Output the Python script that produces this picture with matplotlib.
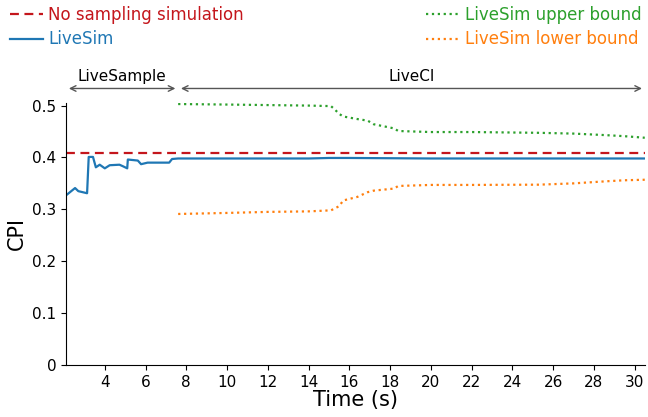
import matplotlib.pyplot as plt

# LiveSim estimate (CPI over time)
sim_t = [2.1, 2.54, 2.7, 3.13, 3.21, 3.42, 3.56, 3.75, 4.0, 4.24, 4.72, 4.89, 5.1, 5.13,
         5.62, 5.78, 6.1, 7.16, 7.3, 7.6, 10.0, 14.0, 15.0, 16.0, 20.0, 26.0, 28.0, 30.5]
sim_cpi = [0.327, 0.341, 0.335, 0.331, 0.401, 0.401, 0.381, 0.386, 0.379, 0.385, 0.386, 0.383,
           0.379, 0.396, 0.394, 0.387, 0.390, 0.390, 0.397, 0.398, 0.398, 0.398, 0.399, 0.399,
           0.398, 0.398, 0.398, 0.398]

# confidence bounds (from LiveCI phase)
ci_t = [7.6, 10.0, 12.0, 14.0, 15.1, 15.3, 15.5, 15.7, 16.4, 16.9, 17.2, 18.2, 18.4,
        20.0, 22.0, 25.3, 27.0, 28.6, 29.5, 30.5]
upper = [0.503, 0.502, 0.501, 0.500, 0.499, 0.492, 0.484, 0.479, 0.474, 0.471, 0.464, 0.456,
         0.451, 0.449, 0.449, 0.4475, 0.446, 0.443, 0.441, 0.438]
lower = [0.291, 0.293, 0.295, 0.296, 0.298, 0.302, 0.306, 0.317, 0.324, 0.333, 0.336, 0.340,
         0.345, 0.347, 0.347, 0.3475, 0.350, 0.354, 0.356, 0.357]

full_sim_cpi = 0.409

x_min, x_max = 2.1, 30.5
phase_split = 7.6

fig = plt.figure(figsize=(6.48, 4.17), dpi=100)
ax = fig.add_axes([0.102, 0.125, 0.893, 0.628])

l_full = ax.axhline(full_sim_cpi, color="#c4161c", ls="--", lw=1.6, dashes=(4, 2.5))
l_sim, = ax.plot(sim_t, sim_cpi, color="#1f77b4", lw=1.6)
l_up, = ax.plot(ci_t, upper, color="#2ca02c", ls=":", lw=1.6)
l_lo, = ax.plot(ci_t, lower, color="#ff7f0e", ls=":", lw=1.6)

ax.set_xlim(x_min, x_max)
ax.set_ylim(0, 0.505)
ax.set_xticks(range(4, 31, 2))
ax.set_yticks([0, 0.1, 0.2, 0.3, 0.4, 0.5])
ax.set_yticklabels(["0", "0.1", "0.2", "0.3", "0.4", "0.5"])
ax.tick_params(labelsize=11)
for s in ["top", "right"]:
    ax.spines[s].set_visible(False)
ax.set_xlabel("Time (s)", fontsize=15, labelpad=0)
ax.set_ylabel("CPI", fontsize=15, labelpad=4)

# phase arrows
arrow_y = 0.533
arrow_kw = dict(arrowstyle="<->", color="#555555", lw=1.0)
ax.annotate("", xy=(x_min, arrow_y), xytext=(phase_split, arrow_y),
            arrowprops=arrow_kw, annotation_clip=False)
ax.annotate("", xy=(phase_split, arrow_y), xytext=(x_max, arrow_y),
            arrowprops=arrow_kw, annotation_clip=False)
ax.text((x_min + phase_split) / 2, arrow_y + 0.008, "LiveSample", ha="center", va="bottom",
        fontsize=11, clip_on=False)
ax.text((phase_split + x_max) / 2, arrow_y + 0.008, "LiveCI", ha="center", va="bottom",
        fontsize=11, clip_on=False)

leg_kw = dict(frameon=False, fontsize=12, handlelength=2.0, handletextpad=0.3,
              labelspacing=0.4, borderaxespad=0.2)
leg1 = fig.legend([l_full, l_sim], ["No sampling simulation", "LiveSim"],
                  loc="upper left", bbox_to_anchor=(0.0, 1.01), **leg_kw)
for txt, ln in zip(leg1.get_texts(), [l_full, l_sim]):
    txt.set_color(ln.get_color())
leg2 = fig.legend([l_up, l_lo], ["LiveSim upper bound", "LiveSim lower bound"],
                  loc="upper right", bbox_to_anchor=(1.005, 1.01), **leg_kw)
for txt, ln in zip(leg2.get_texts(), [l_up, l_lo]):
    txt.set_color(ln.get_color())

fig.savefig("out.png", dpi=100)
